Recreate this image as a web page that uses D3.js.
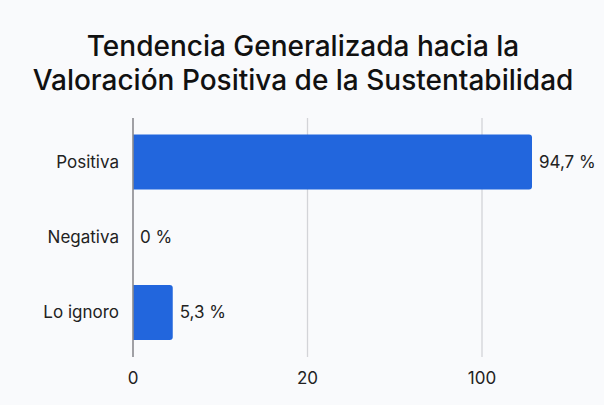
<!DOCTYPE html>
<html>
<head>
<meta charset="utf-8">
<script src="https://cdn.jsdelivr.net/npm/d3@7"></script>
<style>
  html, body { margin: 0; padding: 0; background: #f9fafc; }
  svg { display: block; }
</style>
</head>
<body>
<svg id="chart" width="604" height="405"></svg>
<script>
const titleLines = ["Tendencia Generalizada hacia la", "Valoración Positiva de la Sustentabilidad"];
const categories = ["Positiva", "Negativa", "Lo ignoro"];
const values = [94.7, 0, 5.3];
const valueLabels = ["94,7 %", "0 %", "5,3 %"];
const tickLabels = ["0", "20", "100"];

const W = 604, H = 405;
const svg = d3.select("#chart");
const font = "Inter, 'Liberation Sans', sans-serif";

svg.append("rect").attr("width", W).attr("height", H).attr("fill", "#f9fafc");

// Title
const title = svg.append("text")
  .attr("text-anchor", "middle")
  .attr("font-family", font)
  .attr("font-weight", 500)
  .attr("font-size", 28)
  .attr("fill", "#111");
title.selectAll("tspan").data(titleLines).join("tspan")
  .attr("x", 303)
  .attr("y", (d, i) => 56 + i * 34)
  .text(d => d);

const x0 = 133, plotTop = 118, plotBottom = 357;

// Axis tick positions (as drawn in the reference)
const xTick = d3.scalePoint().domain(tickLabels).range([x0, 482]);
// Bar length scale
const xBar = d3.scalePow().exponent(0.8).domain([0, 94.7]).range([x0, 532]);
const y = d3.scalePoint().domain(categories).range([162, 312.5]);
const barH = 55;

// Gridlines
svg.append("g").selectAll("line").data(tickLabels.slice(1)).join("line")
  .attr("x1", d => xTick(d)).attr("x2", d => xTick(d))
  .attr("y1", plotTop).attr("y2", plotBottom)
  .attr("stroke", "#d3d4d8").attr("stroke-width", 1.3);

// Bars (rounded right corners)
function barPath(xs, xe, yt, h, r) {
  const w = xe - xs;
  if (w <= 0) return "";
  r = Math.min(r, w);
  return `M${xs},${yt}H${xe - r}Q${xe},${yt} ${xe},${yt + r}V${yt + h - r}Q${xe},${yt + h} ${xe - r},${yt + h}H${xs}Z`;
}
svg.append("g").selectAll("path").data(categories).join("path")
  .attr("d", (c, i) => barPath(xBar(0), xBar(values[i]), y(c) - barH / 2, barH, 3))
  .attr("fill", "#2266dd");

// Zero axis line
svg.append("line")
  .attr("x1", x0).attr("x2", x0).attr("y1", plotTop).attr("y2", plotBottom)
  .attr("stroke", "#8a8a8e").attr("stroke-width", 1.6);

// Category labels
svg.append("g").selectAll("text").data(categories).join("text")
  .attr("x", 119).attr("y", d => y(d))
  .attr("dy", "0.35em")
  .attr("text-anchor", "end")
  .attr("font-family", font).attr("font-size", 17)
  .attr("fill", "#222")
  .text(d => d);

// Value labels
svg.append("g").selectAll("text").data(categories).join("text")
  .attr("x", (c, i) => xBar(values[i]) + 7).attr("y", d => y(d))
  .attr("dy", "0.35em")
  .attr("font-family", font).attr("font-size", 17)
  .attr("fill", "#222")
  .text((c, i) => valueLabels[i]);

// Tick labels
svg.append("g").selectAll("text").data(tickLabels).join("text")
  .attr("x", d => xTick(d)).attr("y", 378)
  .attr("dy", "0.35em")
  .attr("text-anchor", "middle")
  .attr("font-family", font).attr("font-size", 17)
  .attr("fill", "#222")
  .text(d => d);
</script>
</body>
</html>
